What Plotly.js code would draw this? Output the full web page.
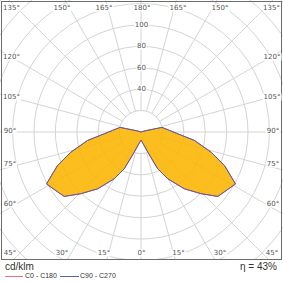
<!DOCTYPE html>
<html>
<head>
<meta charset="utf-8">
<script src="https://cdn.plot.ly/plotly-3.0.1.min.js"></script>
<style>
  html, body { margin:0; padding:0; width:283px; height:283px; overflow:hidden; background:#fff; }
  #wrap { position:absolute; left:0; top:0; width:283px; height:283px; overflow:hidden; }
  #plot { position:absolute; left:-59px; top:-68px; width:400px; height:400px; }
  #cover { position:absolute; left:0; top:259px; width:283px; height:24px; background:#fff; }
  #frame { position:absolute; left:1px; top:1px; width:281px; height:259px; box-sizing:border-box; border:1.5px solid #6c6c6c; }
  .lbl { position:absolute; transform:translate(-50%,-50%); background:#fff; color:#555; font-family:"DejaVu Sans", sans-serif; font-size:7px; line-height:1; padding:0 1px; white-space:nowrap; }
  .txt { position:absolute; font-family:"Liberation Sans", Arial, sans-serif; color:#333; white-space:nowrap; line-height:1; }
  .leg { position:absolute; height:0; border-top:1.2px solid; top:276px; }
</style>
</head>
<body>
<div id="wrap">
  <div id="plot"></div>
  <div id="cover"></div>
  <div id="frame"></div>
</div>
<div id="labels"></div>
<script>
// ---- data (gamma angle in degrees, intensity in cd/klm) ----
var gamma      = [0, 5, 10, 18.6, 24.5, 29.8, 37.4, 44.3, 50, 61.2, 68.1, 73.9, 81, 87.2, 93.2, 102.4, 107, 120, 180];
var intensityC0  = [7.5, 9, 11, 19.9, 37.8, 50.4, 66.9, 80.6, 93.7, 100.8, 84.1, 68.3, 50.6, 34.4, 26.7, 20, 3, 0, 0];
var intensityC90 = [7.5, 9, 11, 19.9, 37.8, 50.4, 66.9, 80.6, 93.7, 100.8, 84.1, 68.3, 50.6, 34.4, 26.7, 20, 3, 0, 0];
var radialTickValues = [40, 60, 80, 100];
var seriesNames = ["C0 - C180", "C90 - C270"];
var unitLabel = "cd/klm";
var efficiencyLabel = "η = 43%";
// edge angle labels: [text, x, y]
var angleLabels = [
  ["135°", 11.5, 8], ["150°", 62, 8], ["165°", 104, 8], ["180°", 142, 8], ["165°", 178, 8], ["150°", 220, 8], ["135°", 271.5, 8],
  ["120°", 11.5, 57], ["105°", 11.5, 97], ["90°", 10, 130.5], ["75°", 10, 163.5], ["60°", 10, 204], ["45°", 10, 253],
  ["120°", 272, 57], ["105°", 272, 97], ["90°", 273, 130.5], ["75°", 273, 163.5], ["60°", 273, 204], ["45°", 272, 253],
  ["30°", 62, 253], ["15°", 104, 253], ["0°", 141.5, 253], ["15°", 178.5, 253], ["30°", 220, 253]
];

// ---- build closed curves (right half: C0 / C90, left half mirrored: C180 / C270) ----
function closed(g, v) {
  var th = g.concat(g.slice().reverse().map(function(a){ return 360 - a; }));
  var r = v.concat(v.slice().reverse());
  return {theta: th, r: r};
}
var c0 = closed(gamma, intensityC0);
var c90 = closed(gamma, intensityC90);

var ringTheta = [], ringR = [];
for (var a = 0; a <= 360; a += 3) { ringTheta.push(a); ringR.push(20); }

var traces = [
  {type:'scatterpolar', mode:'lines', theta:ringTheta, r:ringR, fill:'toself', fillcolor:'#ffffff',
   line:{color:'#d4d4d4', width:1}, hoverinfo:'skip', showlegend:false},
  {type:'scatterpolar', mode:'lines', name:seriesNames[0], theta:c0.theta, r:c0.r, fill:'toself',
   fillcolor:'rgba(252,180,0,0.88)', line:{color:'#f05a64', width:1}, showlegend:false},
  {type:'scatterpolar', mode:'lines', name:seriesNames[1], theta:c90.theta, r:c90.r,
   line:{color:'#56609e', width:1}, showlegend:false}
];

var RMAX = 200 / 1.07;
var layout = {
  width:400, height:400, margin:{l:0, r:0, t:0, b:0},
  paper_bgcolor:'rgba(0,0,0,0)', showlegend:false,
  polar:{
    domain:{x:[0,1], y:[0,1]},
    bgcolor:'#ffffff',
    radialaxis:{range:[0, RMAX], tickvals:[20,40,60,80,100,120,140,160,180], showticklabels:false, ticks:'',
                showline:false, gridcolor:'#d4d4d4', gridwidth:1, angle:90},
    angularaxis:{rotation:270, direction:'counterclockwise', tickvals:[0,15,30,45,60,75,90,105,120,135,150,165,180,195,210,225,240,255,270,285,300,315,330,345],
                 showticklabels:false, ticks:'', showline:false, gridcolor:'#d4d4d4', gridwidth:1}
  }
};
Plotly.newPlot('plot', traces, layout, {displayModeBar:false, staticPlot:true});

// ---- text overlays ----
var L = document.getElementById('labels');
function add(html, cls, css) { var d = document.createElement('div'); d.className = cls; d.innerHTML = html; for (var k in css) d.style[k] = css[k]; L.appendChild(d); return d; }
angleLabels.forEach(function(s){ add(s[0], 'lbl', {left:s[1]+'px', top:s[2]+'px'}); });
var cx = 141.5, cy = 132, k = 1.07;
radialTickValues.forEach(function(v){ add(String(v), 'lbl', {left:cx+'px', top:(cy - v*k)+'px'}); });
add(unitLabel, 'txt', {left:'5px', top:'262px', fontSize:'10px'});
add(efficiencyLabel, 'txt', {right:'6px', top:'262px', fontSize:'10px'});
add('', 'leg', {left:'5px', width:'18px', borderTopColor:'#f0707a'});
add(seriesNames[0], 'txt', {left:'25px', top:'272px', fontSize:'7px'});
add('', 'leg', {left:'60px', width:'19px', borderTopColor:'#5a64a8'});
add(seriesNames[1], 'txt', {left:'80px', top:'272px', fontSize:'7px'});
</script>
</body>
</html>
